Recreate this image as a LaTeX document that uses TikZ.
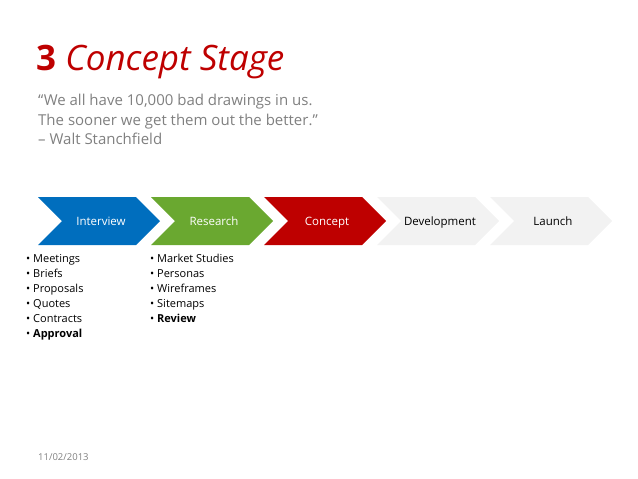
\documentclass[tikz,border=0pt]{standalone}
\usepackage{fontspec}
\setmainfont{Open Sans}
\begin{document}
\begin{tikzpicture}[x=1pt,y=-1pt,
  item/.style={anchor=base west, inner sep=0pt, font=\fontsize{11}{11}\selectfont}]
\useasboundingbox (0,0) rectangle (638,479);
\definecolor{cblue}{RGB}{0,110,190}
\definecolor{cgreen}{RGB}{106,168,48}
\definecolor{cred}{RGB}{190,0,0}
\definecolor{cgray}{RGB}{242,242,242}
\definecolor{tgray}{RGB}{128,128,128}
\node[anchor=west, inner sep=0pt, text=cred] (title) at (36,62) {\fontsize{35}{35}\selectfont\textbf{3} \textit{Concept Stage}};
\node[anchor=north west, inner sep=0pt, text=tgray, align=left, font=\fontsize{15}{19.5}\selectfont] (quote) at (38,94)
 {“We all have 10,000 bad drawings in us.\\The sooner we get them out the better.”\\– Walt Stanchfield};
\foreach \x/\c/\t/\tc [count=\i] in {38/cblue/Interview/white, 151/cgreen/Research/white, 264/cred/Concept/white, 377/cgray/Development/black, 490/cgray/Launch/black}{
  \fill[\c] (\x,197) -- (\x+98,197) -- (\x+122,221) -- (\x+98,245) -- (\x,245) -- (\x+24,221) -- cycle;
  \node[text=\tc, anchor=base, inner sep=0pt, font=\fontsize{11.5}{11.5}\selectfont] (s\i) at (\x+63,225) {\t};
}
\foreach \t [count=\i] in {Meetings,Briefs,Proposals,Quotes,Contracts}
  \node[item] (a\i) at (26,247+15*\i) {• \t};
\node[item] (a6) at (26,337) {• \textbf{Approval}};
\foreach \t [count=\i] in {Market Studies,Personas,Wireframes,Sitemaps}
  \node[item] (b\i) at (150,247+15*\i) {• \t};
\node[item] (b5) at (150,322) {• \textbf{Review}};
\node[anchor=west, inner sep=0pt, text=tgray, font=\fontsize{9.5}{9.5}\selectfont] (date) at (38,457) {11/02/2013};
\end{tikzpicture}
\end{document}
